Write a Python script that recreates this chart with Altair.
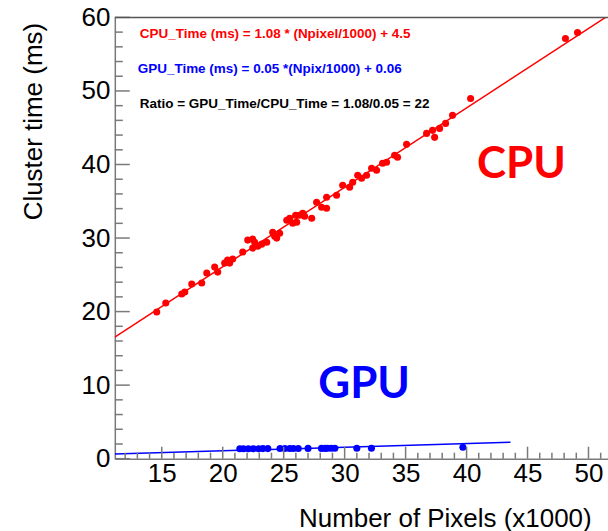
import altair as alt
import pandas as pd

# ---- data ----
cpu_x = [14.59, 15.33, 16.64, 16.89, 17.46, 18.28, 18.69, 19.34, 19.59, 20.16,
         20.40, 20.57, 20.82, 21.64, 22.05, 22.46, 22.46, 22.62, 22.87, 23.20,
         23.61, 24.10, 24.26, 24.43, 24.67, 25.25, 25.49, 25.74, 25.98, 26.07,
         26.31, 26.56, 26.72, 27.30, 27.70, 28.11, 28.52, 28.52, 29.34, 29.84,
         30.41, 30.66, 31.07, 31.39, 31.80, 32.21, 32.62, 33.11, 33.44, 34.10,
         34.34, 35.08, 36.72, 37.21, 37.38, 37.79, 38.28, 38.85, 40.33, 48.11,
         49.10]
cpu_y = [19.95, 21.17, 22.39, 22.66, 23.74, 23.88, 25.24, 26.05, 25.37, 26.59,
         27.00, 26.59, 27.14, 28.09, 29.72, 29.85, 28.63, 29.44, 28.90, 29.17,
         29.44, 30.80, 30.26, 29.99, 30.66, 32.43, 32.70, 32.02, 33.10, 32.16,
         33.10, 33.38, 32.97, 32.70, 34.87, 34.19, 34.06, 35.55, 35.82, 37.18,
         36.91, 37.58, 38.53, 38.13, 38.53, 39.48, 39.21, 40.16, 40.30, 41.25,
         40.98, 42.74, 44.23, 44.64, 43.69, 44.91, 45.59, 46.68, 48.98, 57.12,
         57.94]

gpu_x = [21.4, 21.7, 22.1, 22.5, 22.95, 23.3, 23.7, 24.7, 25.1, 25.5, 25.8,
         26.2, 27.0, 28.1, 28.4, 28.6, 28.9, 29.2, 31.0, 32.2, 39.7]
gpu_y = [1.36, 1.36, 1.36, 1.36, 1.36, 1.37, 1.37, 1.38, 1.38, 1.38, 1.39,
         1.39, 1.40, 1.40, 1.40, 1.41, 1.41, 1.41, 1.42, 1.42, 1.55]

cpu_fit_x = [11.15, 51.4]
cpu_fit_y = [16.54, 60.0]
gpu_fit_x = [11.15, 43.6]
gpu_fit_y = [0.62, 2.24]

x_major = [15, 20, 25, 30, 35, 40, 45, 50]
x_minor = [12, 13, 14, 16, 17, 18, 19, 21, 22, 23, 24, 26, 27, 28, 29, 31, 32,
           33, 34, 36, 37, 38, 39, 41, 42, 43, 44, 46, 47, 48, 49, 51]
y_major = [0, 10, 20, 30, 40, 50, 60]
y_minor = [2, 4, 6, 8, 12, 14, 16, 18, 22, 24, 26, 28, 32, 34, 36, 38, 42, 44,
           46, 48, 52, 54, 56, 58]

eq_texts = ["CPU_Time (ms) = 1.08 * (Npixel/1000) + 4.5",
            "GPU_Time (ms) = 0.05 *(Npix/1000) + 0.06",
            "Ratio = GPU_Time/CPU_Time = 1.08/0.05 = 22"]
eq_x = [13.2, 13.03, 13.2]
eq_y = [57.8, 53.0, 48.2]
eq_col = ["red", "blue", "black"]

big_texts = ["CPU", "GPU"]
big_x = [44.5, 31.6]
big_y = [39.9, 10.0]
big_col = ["red", "blue"]

W, H = 494, 442
FONT = "Liberation Sans"
AXC = "#7a7a7a"

xs = alt.Scale(domain=[11.15, 51.6], nice=False, zero=False)
ys = alt.Scale(domain=[0, 60], nice=False, zero=True)

ax_x = alt.Axis(values=x_major, tickSize=0, grid=False, domainColor=AXC,
                domainWidth=1.5, labelFont=FONT, labelFontSize=26,
                labelColor="black", labelPadding=2, labelFlush=False,
                title="Number of Pixels (x1000)", titleFont=FONT,
                titleFontSize=26, titleFontWeight="normal",
                titleColor="black", titleAlign="left",
                titleAnchor="start", titleX=184, titleY=68,
                titleBaseline="alphabetic")
ax_y = alt.Axis(values=y_major, tickSize=0, grid=False, domainColor=AXC,
                domainWidth=1.5, labelFont=FONT, labelFontSize=26,
                labelColor="black", labelPadding=5, labelFlush=False,
                title="Cluster time (ms)", titleFont=FONT,
                titleFontSize=26, titleFontWeight="normal",
                titleColor="black", titleAlign="right",
                titleAngle=270, titleX=-73, titleY=5,
                titleBaseline="alphabetic")


def X(f):
    return alt.X(f, scale=xs, axis=ax_x)


def Y(f):
    return alt.Y(f, scale=ys, axis=ax_y)


cpu_df = pd.DataFrame({"x": cpu_x, "y": cpu_y})
gpu_df = pd.DataFrame({"x": gpu_x, "y": gpu_y})

cpu_pts = alt.Chart(cpu_df).mark_circle(size=50, color="red", opacity=1).encode(
    x=X("x:Q"), y=Y("y:Q"))
gpu_pts = alt.Chart(gpu_df).mark_circle(size=50, color="blue", opacity=1).encode(
    x=X("x:Q"), y=Y("y:Q"))

cpu_line = alt.Chart(pd.DataFrame({"x": cpu_fit_x, "y": cpu_fit_y})).mark_line(
    color="red", strokeWidth=1.5, clip=True).encode(x=X("x:Q"), y=Y("y:Q"))
gpu_line = alt.Chart(pd.DataFrame({"x": gpu_fit_x, "y": gpu_fit_y})).mark_line(
    color="blue", strokeWidth=1.5, clip=True).encode(x=X("x:Q"), y=Y("y:Q"))

ymaj = alt.Chart(pd.DataFrame({"y": y_major})).mark_rule(color=AXC, strokeWidth=1.5).encode(
    y=Y("y:Q"), x=alt.value(0), x2=alt.value(15))
ymin = alt.Chart(pd.DataFrame({"y": y_minor})).mark_rule(color=AXC, strokeWidth=1.5).encode(
    y=Y("y:Q"), x=alt.value(0), x2=alt.value(8))
xmaj = alt.Chart(pd.DataFrame({"x": x_major})).mark_rule(color=AXC, strokeWidth=1.5).encode(
    x=X("x:Q"), y=alt.value(H), y2=alt.value(H - 12))
xmin = alt.Chart(pd.DataFrame({"x": x_minor})).mark_rule(color=AXC, strokeWidth=1.5).encode(
    x=X("x:Q"), y=alt.value(H), y2=alt.value(H - 6))

top = alt.Chart(pd.DataFrame({"a": [0]})).mark_rule(color="#555555", strokeWidth=1.5).encode(
    y=alt.value(0), x=alt.value(0), x2=alt.value(W + 5))

eq_df = pd.DataFrame({"t": eq_texts, "x": eq_x, "y": eq_y, "c": eq_col})
eqs = alt.Chart(eq_df).mark_text(font=FONT, fontSize=13.5, fontWeight="bold",
                                 align="left", baseline="middle").encode(
    x=X("x:Q"), y=Y("y:Q"), text="t:N", color=alt.Color("c:N", scale=None))

big_df = pd.DataFrame({"t": big_texts, "x": big_x, "y": big_y, "c": big_col})
bigs = alt.Chart(big_df).mark_text(font="Lato", fontSize=44, fontWeight="bold",
                                   align="center", baseline="middle").encode(
    x=X("x:Q"), y=Y("y:Q"), text="t:N", color=alt.Color("c:N", scale=None))

chart = alt.layer(cpu_pts, gpu_pts, cpu_line, gpu_line, ymaj, ymin, xmaj, xmin,
                  top, eqs, bigs).properties(
    width=W, height=H,
    autosize=alt.AutoSizeParams(type="none"),
    padding={"left": 115, "top": 17, "right": 0, "bottom": 72},
    background="white",
).configure_view(stroke=None)

chart.save("out.html", embed_options={"renderer": "svg", "actions": False})
